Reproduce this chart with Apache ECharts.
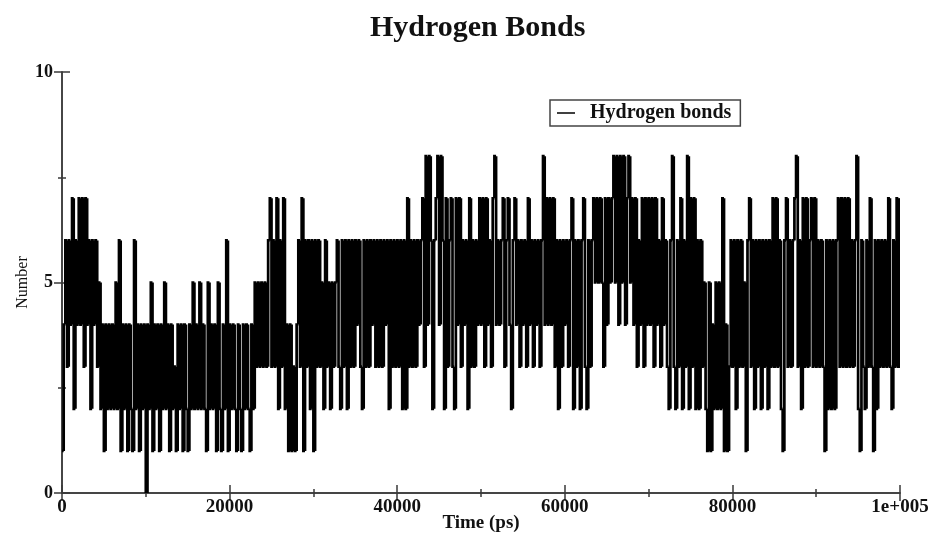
<!DOCTYPE html>
<html>
<head>
<meta charset="utf-8">
<script src="https://cdn.jsdelivr.net/npm/echarts@6/dist/echarts.min.js"></script>
<style>
html,body{margin:0;padding:0;background:#fff;overflow:hidden;}
#chart{width:934px;height:533px;}
</style>
</head>
<body>
<div id="chart"></div>
<script>
// Sampling interval of the trajectory (ps)
const timeStep = 200;
// Number of hydrogen bonds, one value every 200 ps
const hbondCounts = [
  1,4,6,3,6,4,7,2,6,4,
  7,4,7,3,7,4,6,2,6,4,
  6,3,5,2,4,1,4,2,4,2,
  4,2,5,2,6,1,4,2,4,1,
  4,2,1,6,2,4,1,4,2,4,
  0,4,2,5,1,4,2,4,1,4,
  2,5,2,4,1,4,2,3,1,4,
  2,4,1,4,2,1,4,2,5,2,
  4,2,5,2,4,2,1,5,2,4,
  2,4,1,5,2,1,4,2,6,1,
  4,2,4,2,1,4,2,1,4,2,
  4,2,1,4,2,5,3,5,3,5,
  3,5,3,6,7,3,6,3,7,2,
  6,3,7,2,4,1,4,1,3,1,
  4,6,3,7,1,6,3,6,2,6,
  1,6,3,6,3,5,2,6,3,5,
  2,5,3,5,6,3,2,6,3,6,
  2,6,3,6,3,6,4,6,3,2,
  6,3,6,3,6,4,6,3,6,3,
  6,3,6,4,6,2,6,3,6,3,
  6,3,6,2,6,2,7,3,6,3,
  6,3,6,4,6,7,3,8,4,8,
  6,2,6,7,8,4,8,6,2,7,
  3,6,7,3,2,7,4,7,3,6,
  4,6,2,7,3,6,3,6,4,7,
  4,7,3,7,4,6,3,7,8,4,
  6,4,6,7,3,6,7,4,2,6,
  7,4,6,3,6,4,6,3,7,4,
  6,3,6,4,6,3,6,8,4,7,
  4,7,4,7,3,6,2,6,3,6,
  4,6,3,6,7,2,6,3,6,2,
  6,7,3,2,6,3,6,7,5,7,
  5,7,5,3,7,4,7,5,7,8,
  5,8,4,8,5,8,4,7,8,5,
  7,4,7,3,6,4,7,3,7,4,
  7,4,7,3,7,4,6,3,7,4,
  6,3,2,6,8,3,2,6,3,7,
  2,6,3,8,2,7,3,7,2,6,
  2,6,3,5,2,1,5,1,4,2,
  5,2,5,2,7,1,4,1,3,6,
  3,6,2,6,3,6,3,5,1,6,
  7,3,6,2,6,3,6,2,6,3,
  6,2,6,3,7,3,7,3,6,2,
  1,6,7,3,6,3,6,7,8,3,
  6,2,7,3,7,3,6,7,3,7,
  3,6,3,6,3,1,6,2,6,2,
  6,2,6,7,3,7,3,7,3,7,
  3,6,3,6,8,2,1,6,3,2,
  6,3,7,3,1,6,2,6,3,6,
  3,6,3,7,3,2,6,3,7,3,7
];
const xTickValues = [0, 20000, 40000, 60000, 80000, 100000];
const xTickLabels = ['0', '20000', '40000', '60000', '80000', '1e+005'];
const yTickValues = [0, 5, 10];
const yTickLabels = ['0', '5', '10'];
const seriesName = 'Hydrogen bonds';

// Each item: [time, value, previous value, next time] -> drawn as a step
const seriesData = hbondCounts.map((v, i) => [
  i * timeStep,
  v,
  i > 0 ? hbondCounts[i - 1] : v,
  i < hbondCounts.length - 1 ? (i + 1) * timeStep : i * timeStep
]);

const serif = '"Liberation Serif", "Times New Roman", serif';
const axisColor = '#3a3a3a';
const textColor = '#111';

const chart = echarts.init(document.getElementById('chart'), null, {renderer: 'canvas'});
const baseX = {
  type: 'value', min: 0, max: 100000, interval: 20000,
  axisLine: {show: true, lineStyle: {color: axisColor, width: 1.5}},
  axisTick: {show: true, inside: true, length: 8, lineStyle: {color: axisColor, width: 1.5}},
  minorTick: {show: true, splitNumber: 2, length: 4, lineStyle: {color: axisColor, width: 1.5}},
  splitLine: {show: false}
};
const baseY = {
  type: 'value', min: 0, max: 10, interval: 5,
  axisLine: {show: true, lineStyle: {color: axisColor, width: 1.5}},
  axisTick: {show: true, inside: true, length: 8, lineStyle: {color: axisColor, width: 1.5}},
  minorTick: {show: true, splitNumber: 2, length: 4, lineStyle: {color: axisColor, width: 1.5}},
  splitLine: {show: false}
};

chart.setOption({
  animation: false,
  backgroundColor: '#fff',
  title: {
    text: 'Hydrogen Bonds',
    left: 365, top: 8,
    textStyle: {fontFamily: serif, fontWeight: 'bold', fontSize: 30, color: textColor}
  },
  legend: {
    left: 550, top: 100,
    data: [{name: seriesName, icon: 'rect', itemStyle: {color: '#000'}}],
    itemWidth: 18, itemHeight: 1.5,
    padding: [3, 9, 3, 7],
    borderColor: '#444', borderWidth: 1.5,
    textStyle: {fontFamily: serif, fontWeight: 'bold', fontSize: 20, color: textColor, padding: [0, 0, 0, 10]}
  },
  grid: {left: 62, right: 34, top: 72, bottom: 40, containLabel: false, outerBoundsMode: 'none'},
  xAxis: [
    Object.assign({}, baseX, {
      position: 'bottom',
      name: 'Time (ps)', nameLocation: 'middle', nameGap: 21, nameMoveOverlap: false,
      nameTextStyle: {fontFamily: serif, fontWeight: 'bold', fontSize: 19, color: textColor},
      axisLabel: {
        margin: 5, fontFamily: serif, fontWeight: 'bold', fontSize: 19, color: textColor,
        formatter: v => { const k = xTickValues.indexOf(v); return k >= 0 ? xTickLabels[k] : ''; }
      }
    }),
    Object.assign({}, baseX, {position: 'top', axisLabel: {show: false}})
  ],
  yAxis: [
    Object.assign({}, baseY, {
      position: 'left',
      name: 'Number', nameLocation: 'middle', nameGap: 31, nameRotate: 90, nameMoveOverlap: false,
      nameTextStyle: {fontFamily: serif, fontSize: 16, color: textColor},
      axisLabel: {
        margin: 9, fontFamily: serif, fontWeight: 'bold', fontSize: 18, color: textColor,
        formatter: v => { const k = yTickValues.indexOf(v); return k >= 0 ? yTickLabels[k] : ''; }
      }
    }),
    Object.assign({}, baseY, {position: 'right', axisLabel: {show: false}})
  ],
  series: [{
    name: seriesName,
    type: 'custom',
    xAxisIndex: 0, yAxisIndex: 0,
    data: seriesData,
    encode: {x: 0, y: 1},
    clip: true,
    itemStyle: {color: '#000'},
    renderItem: (params, api) => {
      const t = api.value(0), v = api.value(1), prev = api.value(2), tNext = api.value(3);
      const p0 = api.coord([t, prev]);
      const p1 = api.coord([t, v]);
      const p2 = api.coord([tNext, v]);
      return {
        type: 'polyline',
        shape: {points: [p0, p1, p2]},
        style: {stroke: '#000', lineWidth: 2.7, fill: null, lineJoin: 'miter', lineCap: 'butt'},
        silent: true
      };
    }
  }]
});
</script>
</body>
</html>
